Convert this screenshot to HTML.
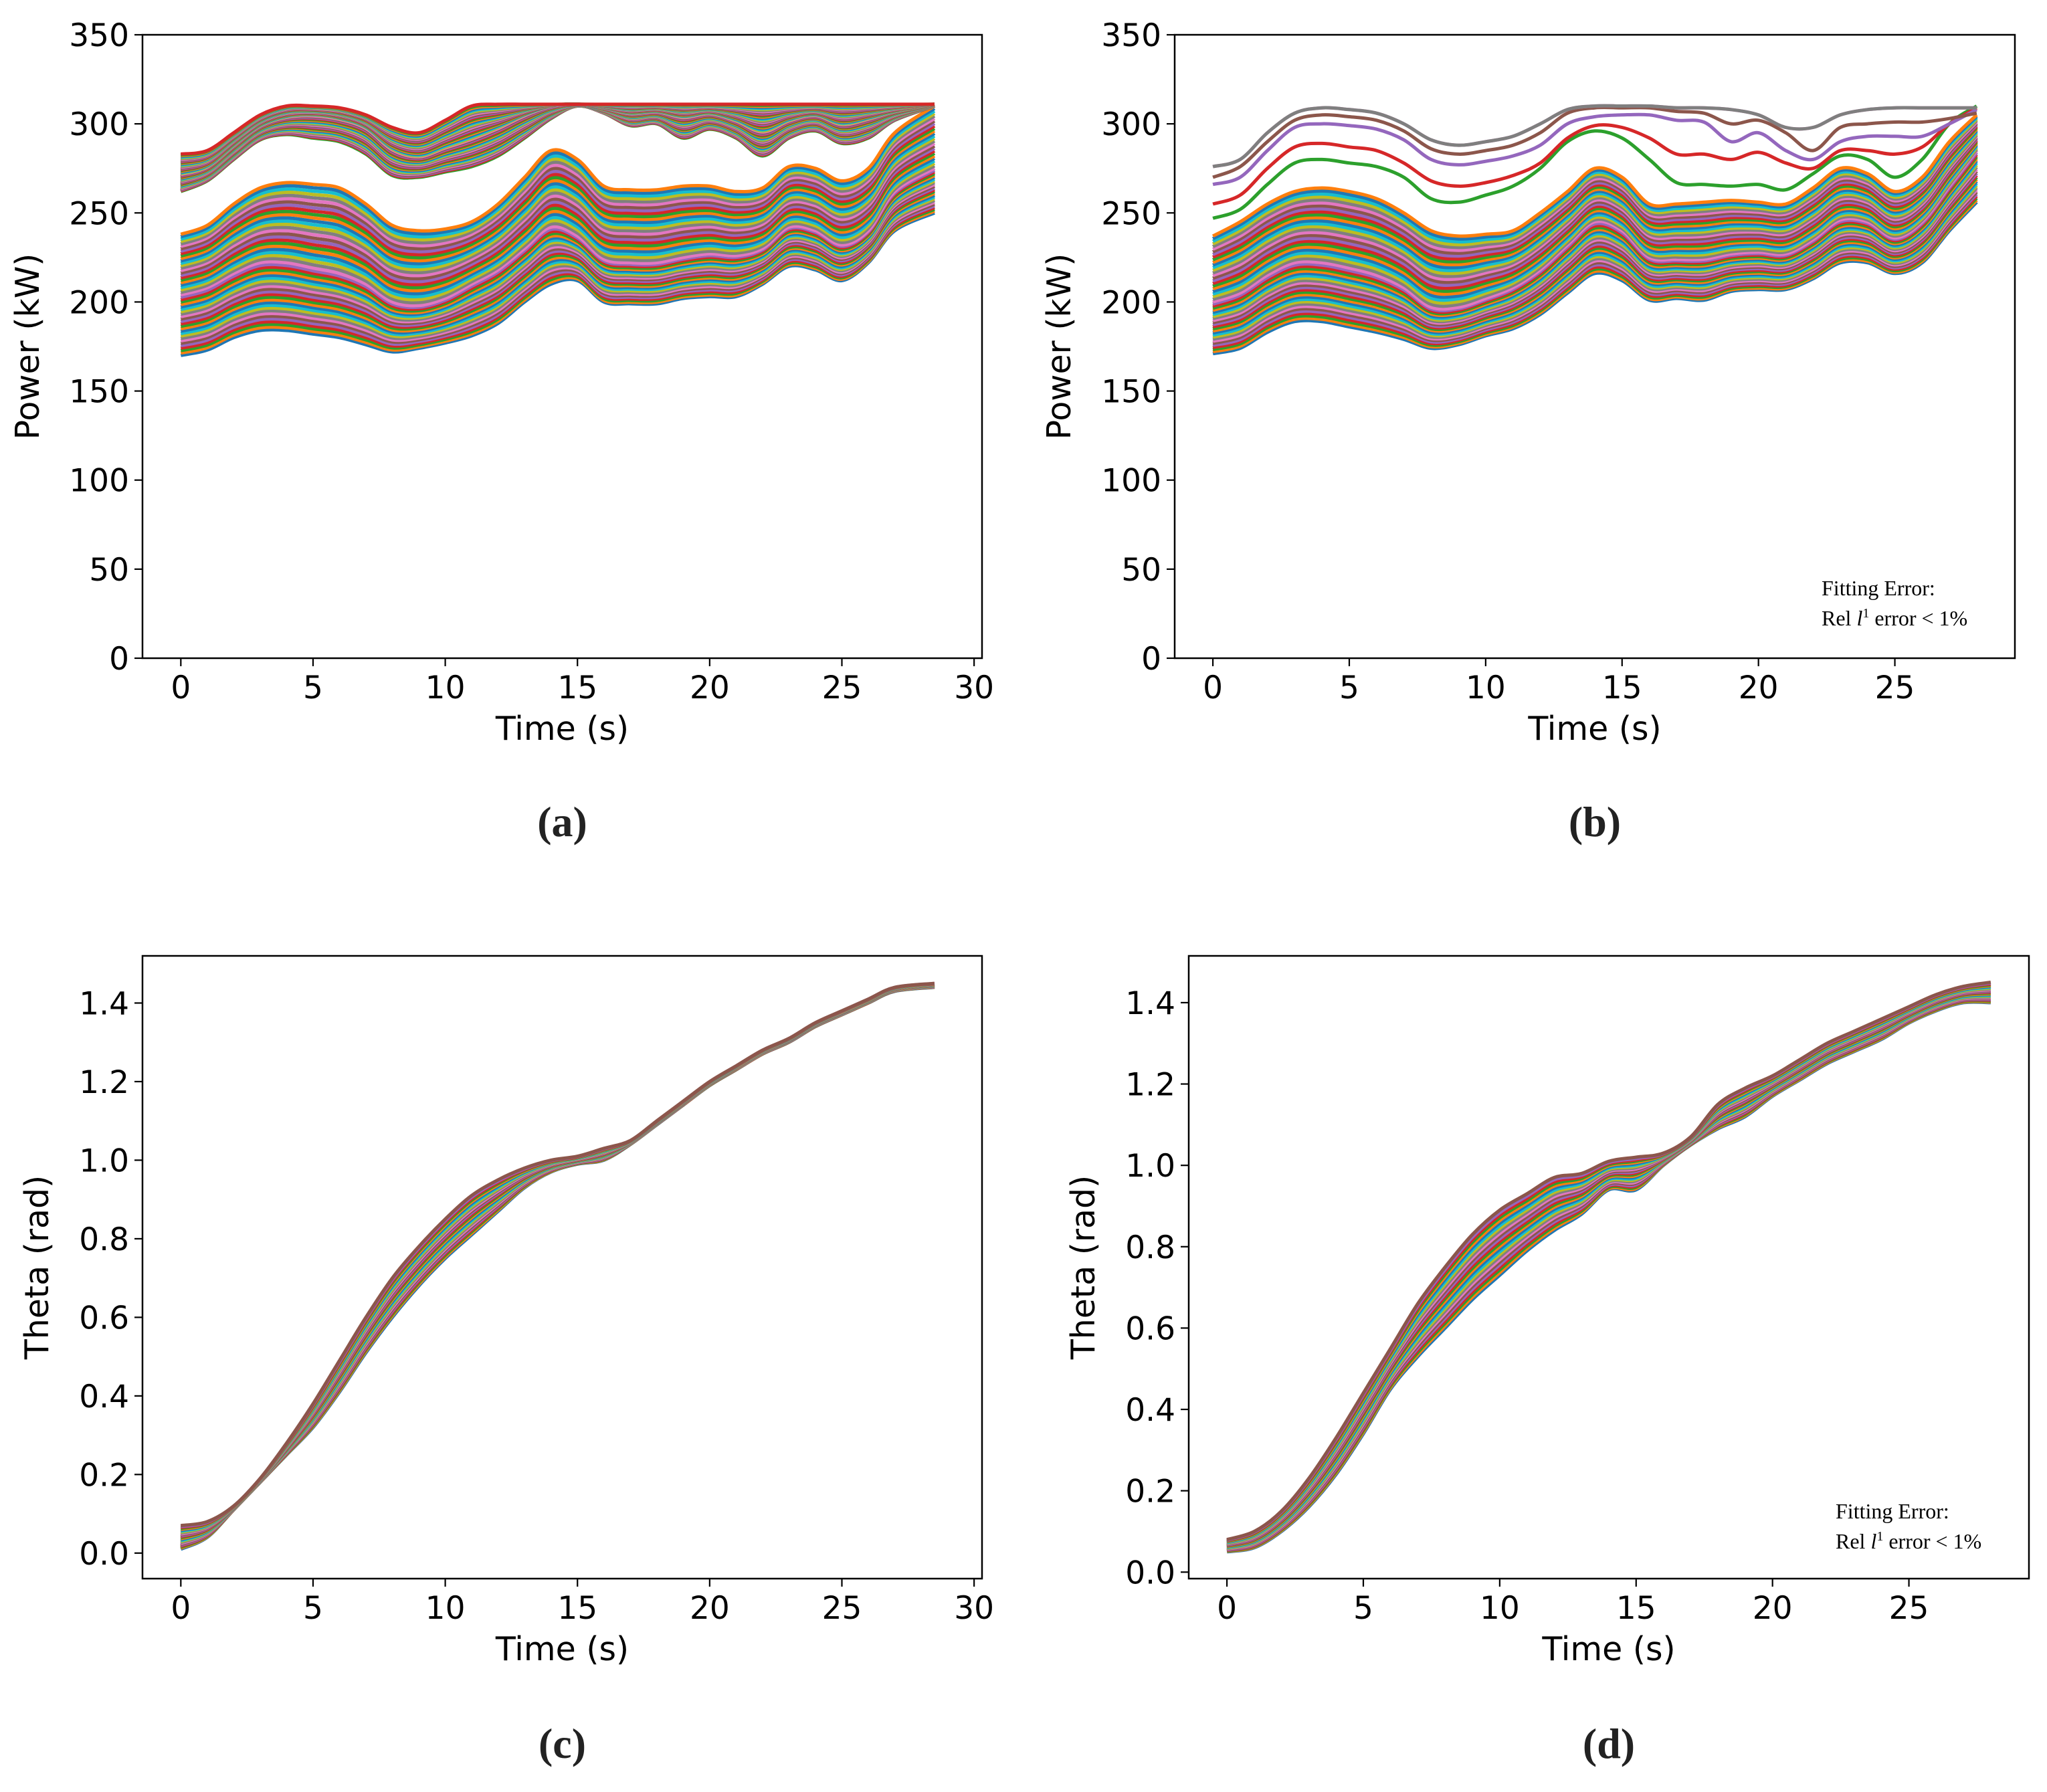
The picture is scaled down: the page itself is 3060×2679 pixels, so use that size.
<!DOCTYPE html>
<html><head><meta charset="utf-8">
<style>
html,body{margin:0;padding:0;background:#fff;}
svg{display:block;}
</style></head>
<body>
<svg id="fig" xmlns="http://www.w3.org/2000/svg" width="3060" height="2679" viewBox="0 0 3060 2679"></svg>
<script>
// ---------- data ----------
const timesA = [0,1,2,3,4,5,6,7,8,9,10,11,12,13,14,15,16,17,18,19,20,21,22,23,24,25,26,27,28.5];
const timesB = [0,1,2,3,4,5,6,7,8,9,10,11,12,13,14,15,16,17,18,19,20,21,22,23,24,25,26,27,28];
// Panel a - power bands
const aUpTop = [283,285,295,305,310,310,309,305,298,295,302,310,311,311,311,311,311,311,311,311,311,311,311,311,311,311,311,311,311];
const aUpMid = [272,276,288,299,304,305,303,298,286,282,287,292,298,305,310,311,309,306,307,304,306,302,296,302,305,300,303,307,311];
const aUpBot = [262,268,280,291,294,292,290,283,271,270,273,276,282,292,303,310,306,299,300,292,297,292,282,292,296,289,292,302,310];
const aLoTop = [238,243,255,264,267,266,264,255,243,240,241,245,255,270,285,280,265,263,263,265,265,262,264,276,275,268,275,295,310];
const aLoMid = [204,208,216,222,222,219,216,210,200,198,202,210,218,230,242,237,224,222,222,225,227,226,230,242,240,232,240,262,275];
const aLoBot = [170,173,180,184,184,182,180,176,172,174,177,181,188,200,210,212,200,199,199,202,203,203,210,220,218,212,222,240,250];
// Panel b - power bands and individual lines
const bLoTop = [237,245,255,262,264,262,258,250,240,237,238,240,250,262,275,270,255,255,256,257,256,255,264,275,272,262,270,290,305];
const bLoMid = [200,205,215,222,222,219,215,208,197,197,202,208,218,232,245,240,225,224,224,227,228,227,235,246,245,236,245,265,285];
const bLoBot = [171,174,183,189,189,186,183,179,174,176,181,185,193,205,216,212,201,202,201,206,207,207,213,222,222,216,222,240,256];
const bOlive = [276,280,295,306,309,308,306,300,291,288,290,293,300,308,310,310,310,309,309,308,305,298,298,305,308,309,309,309,309];
const bGreen = [270,276,290,302,305,304,302,296,286,283,285,288,295,306,309,309,309,307,306,300,302,295,285,298,300,301,301,303,306];
const bRed   = [266,270,285,298,300,299,297,291,280,277,279,282,288,300,304,305,305,302,301,290,295,285,280,290,293,293,293,300,308];
const bGray  = [255,260,275,287,289,287,285,278,268,265,267,271,278,292,299,298,292,283,283,280,284,278,275,285,285,283,287,300,309];
const bBlue  = [247,252,266,278,280,278,276,270,258,256,260,265,275,290,296,292,280,267,266,265,266,263,272,282,280,270,280,300,310];
// Panel c - theta
const cTop = [0.07,0.08,0.12,0.19,0.28,0.38,0.49,0.60,0.70,0.78,0.85,0.91,0.95,0.98,1.00,1.01,1.03,1.05,1.10,1.15,1.20,1.24,1.28,1.31,1.35,1.38,1.41,1.44,1.45];
const cBot = [0.01,0.04,0.11,0.18,0.25,0.32,0.41,0.51,0.60,0.68,0.75,0.81,0.87,0.93,0.97,0.99,1.00,1.04,1.09,1.14,1.19,1.23,1.27,1.30,1.34,1.37,1.40,1.43,1.44];
// Panel d - theta
const dTop = [0.08,0.10,0.15,0.23,0.33,0.44,0.55,0.66,0.75,0.83,0.89,0.93,0.97,0.98,1.01,1.02,1.03,1.07,1.15,1.19,1.22,1.26,1.30,1.33,1.36,1.39,1.42,1.44,1.45];
const dBot = [0.05,0.06,0.10,0.16,0.24,0.34,0.45,0.53,0.60,0.67,0.73,0.79,0.84,0.88,0.94,0.94,1.00,1.05,1.09,1.12,1.17,1.21,1.25,1.28,1.31,1.35,1.38,1.40,1.40];
// blend fractions between two read curves
const fracs = [0,0.04,0.08,0.12,0.16,0.2,0.24,0.28,0.32,0.36,0.4,0.44,0.48,0.52,0.56,0.6,0.64,0.68,0.72,0.76,0.8,0.84,0.88,0.92,0.96,1];
const xTicks30 = [0,5,10,15,20,25,30];
const xTicks25 = [0,5,10,15,20,25];
const yTicksP = [0,50,100,150,200,250,300,350];
const yTicksT = [0.0,0.2,0.4,0.6,0.8,1.0,1.2,1.4];
const yLabelsT = ["0.0","0.2","0.4","0.6","0.8","1.0","1.2","1.4"];
const colors = ["#1f77b4","#ff7f0e","#2ca02c","#d62728","#9467bd","#8c564b","#e377c2","#7f7f7f","#bcbd22","#17becf"];

// ---------- drawing ----------
const NS="http://www.w3.org/2000/svg";
const svg=document.getElementById('fig');
function el(tag,attrs,parent){const e=document.createElementNS(NS,tag);for(const k in attrs)e.setAttribute(k,attrs[k]);(parent||svg).appendChild(e);return e;}
function txt(s,attrs,parent){const e=el('text',attrs,parent);e.textContent=s;return e;}

function makePanel(p){
  const g=el('g',{});
  
  
  const sx=v=>p.L+(v-p.x0)/(p.x1-p.x0)*(p.R-p.L);
  const sy=v=>p.B-(v-p.y0)/(p.y1-p.y0)*(p.B-p.T);
  const clipId='clip-'+p.name;
  const cp=el('clipPath',{id:clipId},g);
  el('rect',{x:p.L,y:p.T,width:p.R-p.L,height:p.B-p.T},cp);
  const lines=el('g',{'clip-path':'url(#'+clipId+')'},g);
  
  
  let ci=0;
  function path(times,vals){
    const pts=times.map((t,i)=>[sx(t),sy(vals[i])]);
    let d='M'+pts[0][0].toFixed(1)+','+pts[0][1].toFixed(1);
    for(let i=0;i<pts.length-1;i++){
      const p0=pts[Math.max(0,i-1)],p1=pts[i],p2=pts[i+1],p3=pts[Math.min(pts.length-1,i+2)];
      const c1=[p1[0]+(p2[0]-p0[0])/6,p1[1]+(p2[1]-p0[1])/6];
      const c2=[p2[0]-(p3[0]-p1[0])/6,p2[1]-(p3[1]-p1[1])/6];
      d+=' C'+c1[0].toFixed(1)+','+c1[1].toFixed(1)+' '+c2[0].toFixed(1)+','+c2[1].toFixed(1)+' '+p2[0].toFixed(1)+','+p2[1].toFixed(1);
    }
    return d;
  }
  function line(times,vals){
    const e=el('path',{d:path(times,vals),fill:'none',stroke:colors[ci%10],'stroke-width':p.lw,'stroke-linejoin':'round'},lines);
    
    
    ci++;
  }
  p.bands.forEach(b=>{
    fracs.forEach(f=>{line(p.times,b[0].map((v,i)=>v+(b[1][i]-v)*f));});
  });
  (p.singles||[]).forEach(s=>line(p.times,s));
  const fr=el('rect',{x:p.L,y:p.T,width:p.R-p.L,height:p.B-p.T,fill:'none',stroke:'#000','stroke-width':2.5},g);
  
  
  p.xt.forEach(t=>{
    const x=sx(t);
    el('line',{x1:x,y1:p.B,x2:x,y2:p.B+12,stroke:'#000','stroke-width':2.2},g);
    const tl=txt(String(t),{x:x,y:p.B+60,'font-family':'DejaVu Sans, Liberation Sans, sans-serif','font-size':47,'text-anchor':'middle',fill:'#000'},g);
    
    
  });
  p.yt.forEach((t,i)=>{
    const y=sy(t);
    el('line',{x1:p.L-12,y1:y,x2:p.L,y2:y,stroke:'#000','stroke-width':2.2},g);
    const tl=txt(p.yl[i],{x:p.L-20,y:y+17,'font-family':'DejaVu Sans, Liberation Sans, sans-serif','font-size':47,'text-anchor':'end',fill:'#000'},g);
    
    
  });
  const xl=txt('Time (s)',{x:(p.L+p.R)/2,y:p.B+122,'font-family':'DejaVu Sans, Liberation Sans, sans-serif','font-size':49,'text-anchor':'middle',fill:'#000'},g);
  
  
  const yc=(p.T+p.B)/2;
  const yl=txt(p.ylabel,{x:p.ylx,y:yc,'font-family':'DejaVu Sans, Liberation Sans, sans-serif','font-size':49,'text-anchor':'middle',fill:'#000',transform:'rotate(-90 '+p.ylx+' '+yc+')'},g);
  
  
  const cap=txt(p.cap,{x:(p.L+p.R)/2,y:p.capY,'font-family':'Liberation Serif, serif','font-size':64,'font-weight':'bold','text-anchor':'middle',fill:'#222'},g);
  
  
  if(p.fit){
    const f1=txt('Fitting Error:',{x:p.fit[0],y:p.fit[1],'font-family':'Liberation Serif, serif','font-size':32,fill:'#000'},g);
    
    
    const f2=el('text',{x:p.fit[0],y:p.fit[1]+45,'font-family':'Liberation Serif, serif','font-size':32,fill:'#000'},g);
    
    
    f2.innerHTML='Rel <tspan font-style="italic">l</tspan><tspan font-size="20" dy="-12">1</tspan><tspan dy="12"> error &lt; 1%</tspan>';
  }
}

makePanel({name:'panel-a',L:213,R:1468,T:52,B:984,x0:-1.45,x1:30.3,y0:0,y1:350,lw:5,
  times:timesA,bands:[[aLoBot,aLoMid],[aLoMid,aLoTop],[aUpBot,aUpMid],[aUpMid,aUpTop]],
  xt:xTicks30,yt:yTicksP,yl:yTicksP.map(String),ylabel:'Power (kW)',ylx:58,cap:'(a)',capY:1250});
makePanel({name:'panel-b',L:1756,R:3012,T:52,B:984,x0:-1.4,x1:29.4,y0:0,y1:350,lw:5,
  times:timesB,bands:[[bLoBot,bLoMid],[bLoMid,bLoTop]],singles:[bBlue,bGray,bRed,bGreen,bOlive,bOlive],
  xt:xTicks25,yt:yTicksP,yl:yTicksP.map(String),ylabel:'Power (kW)',ylx:1600,cap:'(b)',capY:1250,fit:[2723,890]});
makePanel({name:'panel-c',L:213,R:1468,T:1429,B:2360,x0:-1.45,x1:30.3,y0:-0.065,y1:1.52,lw:5,
  times:timesA,bands:[[cBot,cTop]],
  xt:xTicks30,yt:yTicksT,yl:yLabelsT,ylabel:'Theta (rad)',ylx:72,cap:'(c)',capY:2628});
makePanel({name:'panel-d',L:1777,R:3033,T:1429,B:2360,x0:-1.4,x1:29.4,y0:-0.016,y1:1.515,lw:5,
  times:timesB,bands:[[dBot,dTop]],
  xt:xTicks25,yt:yTicksT,yl:yLabelsT,ylabel:'Theta (rad)',ylx:1636,cap:'(d)',capY:2628,fit:[2744,2270]});
</script>
</body></html>
